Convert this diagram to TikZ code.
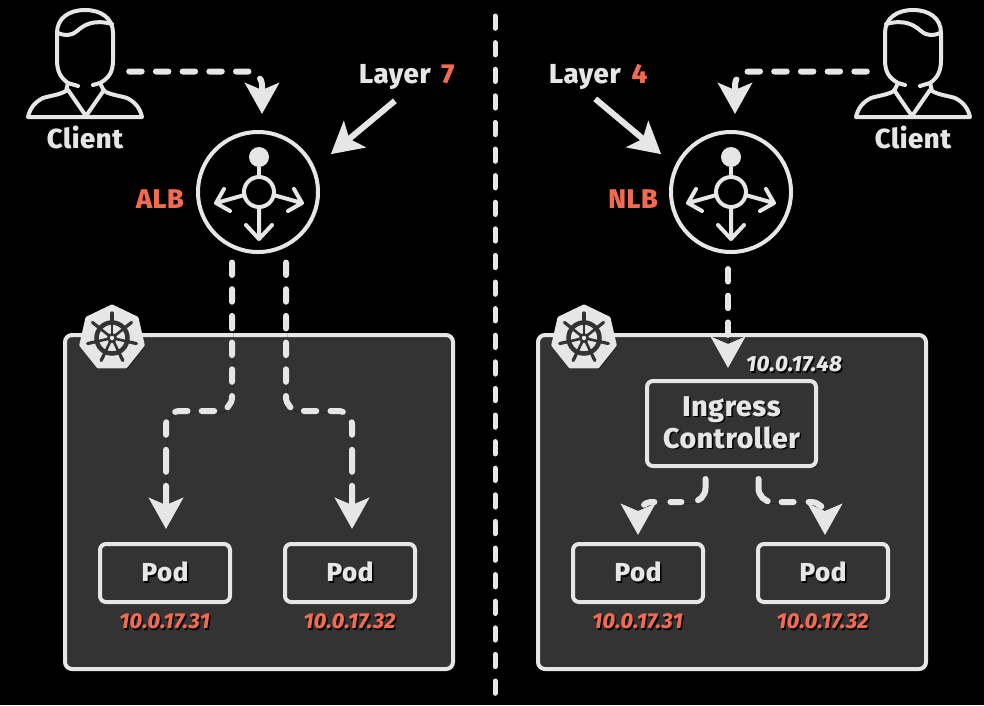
\documentclass[tikz,border=0pt]{standalone}
\usepackage{fontspec}
\setmainfont[LetterSpace=2,BoldFont={Fira Sans ExtraBold},BoldItalicFont={Fira Sans ExtraBold Italic}]{Fira Sans}
\usetikzlibrary{arrows.meta,shapes.geometric,shadows,calc}
\definecolor{ink}{HTML}{E6E6E6}
\definecolor{panelfill}{HTML}{333333}
\definecolor{hot}{HTML}{F26B50}
\newcommand\stx[1]{\rlap{\raisebox{-1.5pt}{\kern1.5pt\textcolor{black}{#1}}}#1}
\tikzset{
  softshadow/.style={drop shadow={shadow xshift=2pt,shadow yshift=-2pt,opacity=.55,fill=black}},
  panel/.style={draw=ink,line width=4pt,fill=panelfill,rounded corners=7pt,minimum width=388pt,minimum height=334pt,inner sep=0pt,softshadow},
  podbox/.style={draw=ink,line width=4pt,fill=panelfill,rounded corners=6pt,minimum width=130pt,minimum height=58pt,inner sep=0pt,softshadow,text=ink,font=\bfseries\fontsize{26}{26}\selectfont},
  ctrlbox/.style={podbox,minimum width=169pt,minimum height=85pt,align=center,font=\bfseries\fontsize{28.5}{32}\selectfont},
  lbcircle/.style={circle,draw=ink,line width=4pt,minimum size=120pt,inner sep=0pt},
  label/.style={text=ink,inner sep=0pt,font=\bfseries\fontsize{27.5}{27.5}\selectfont},
  hotlabel/.style={text=hot,inner sep=0pt,font=\bfseries\fontsize{27}{27}\selectfont},
  iplabel/.style={text=hot,inner sep=0pt,font=\bfseries\itshape\fontsize{21.5}{21.5}\selectfont},
  iplight/.style={iplabel,text=ink,font=\bfseries\itshape\fontsize{22}{22}\selectfont},
  badge/.style={regular polygon,regular polygon sides=7,draw=ink,fill=ink,line width=4pt,line join=round,minimum size=63pt,inner sep=0pt,softshadow},
  iconbox/.style={inner sep=0pt,minimum width=56pt,minimum height=107pt},
  bigtip/.tip={Stealth[length=31pt,width=34pt,inset=7pt]},
  solidarrow/.style={draw=ink,line width=6pt,-bigtip},
  flow/.style={draw=ink,line width=6pt,line cap=round,dash pattern=on 12.5pt off 14.2pt,rounded corners=14pt,-bigtip,
    preaction={draw=black,draw opacity=.5,transform canvas={shift={(1.5pt,-1.5pt)}}}},
  flowlong/.style={flow,dash pattern=on 12.5pt off 14.2pt on 12.5pt off 14.2pt on 12.5pt off 14.2pt on 12.5pt off 14.2pt on 12.5pt off 14.2pt on 12.5pt off 14.2pt on 12.5pt off 14.2pt on 12.5pt off 14.2pt on 12.5pt off 15pt on 22pt off 14pt on 60pt off 10pt},
  divider/.style={draw=ink,line width=5pt,line cap=round,dash pattern=on 12.3pt off 14.3pt},
  person/.pic={
    \draw[ink,line width=4pt,line cap=round,line join=round]
      (-7,86) -- (-17,83) .. controls (-24,78) and (-28,72) .. (-28,60) -- (-28,33)
      .. controls (-28,18) and (-16,10) .. (0,10) .. controls (16,10) and (28,18) .. (28,33)
      -- (28,60) .. controls (28,72) and (24,78) .. (15,83) -- (8,85);
    \draw[ink,line width=4pt,line cap=round,line join=round]
      (-27,33) .. controls (-20,36) and (-14,36) .. (-8,31) .. controls (-1,25) and (8,19) .. (27,24);
    \draw[ink,line width=4pt,line cap=round,line join=round]
      (-17,83) -- (-19,91) .. controls (-26,95) and (-36,96) .. (-42,98) .. controls (-50,102) and (-55,108) .. (-57,117)
      -- (57,117) .. controls (55,108) and (50,102) .. (42,98) .. controls (36,96) and (26,95) .. (19,91) -- (15,83);
    \draw[ink,line width=4pt,line join=round,line cap=round] (-17,90) -- (1,116) -- (19,90);
  },
  lbicon/.pic={
    \fill[ink] (0,-35) circle (10);
    \draw[ink,line width=4pt] (0,-25) -- (0,-15);
    \draw[ink,line width=4pt] (0,0) circle (15);
    \draw[ink,line width=4pt,line cap=round,line join=round]
      (-14.5,3) -- (-43,11) (-35,-3) -- (-43,11) -- (-29,19)
      (14.5,3) -- (43,11) (35,-3) -- (43,11) -- (29,19)
      (0,15) -- (0,47) (-13,33) -- (0,47) -- (13,33);
  },
  helm/.pic={
    \draw[panelfill,line width=4.5pt] (0,0) circle (15.5);
    \fill[panelfill] (0,0) circle (5);
    \foreach \a in {90,141.43,192.86,244.29,295.71,347.14,398.57}{
      \draw[panelfill,line width=2.6pt] (0,0) -- ({\a}:-17);
      \draw[panelfill,line width=3.2pt,line cap=round] ({\a}:-17) -- ({\a}:-25);
    }
    \fill[ink] (0,0) circle (2.2);
  }
}
\begin{document}
\begin{tikzpicture}[x=1pt,y=-1pt]
\useasboundingbox (0,0) rectangle (984,705);
\fill[black] (0,0) rectangle (984,705);
\coordinate (divtop) at (495,16);
\coordinate (divbot) at (495,695);
\draw[divider] (divtop) -- (divbot);

% left side
\node[panel] (panelL) at (259,502) {};
\node[badge] (badgeL) at (112,338) {};
\pic at (112,338) {helm};
\node[iconbox] (clientL) at (85,63.5) {};
\pic at (85,0) {person};
\node[label] (clientLtext) at (85,137) {Client};
\node[lbcircle] (alb) at (258,192) {};
\pic at (259,192) {lbicon};
\node[hotlabel] (albtext) at (160,199) {ALB};
\node[label,anchor=west] (layer7) at (359,77) {Layer\hspace{4pt} \textcolor{hot}{7}};
\node[podbox] (pod1) at (165,573) {\stx{Pod}};
\node[podbox] (pod2) at (350,573) {\stx{Pod}};
\node[iplabel] (ip1) at (164.5,622) {\stx{10.0.17.31}};
\node[iplabel] (ip2) at (349.5,622) {\stx{10.0.17.32}};

% right side
\node[panel] (panelR) at (732,502) {};
\node[badge] (badgeR) at (584,338) {};
\pic at (584,338) {helm};
\node[iconbox] (clientR) at (913,63.5) {};
\pic[xscale=-1] at (913,0) {person};
\node[label] (clientRtext) at (913,137) {Client};
\node[lbcircle] (nlb) at (731,192) {};
\pic at (731,192) {lbicon};
\node[hotlabel] (nlbtext) at (633,199) {NLB};
\node[label,anchor=west] (layer4) at (549,77) {Layer\hspace{4pt} \textcolor{hot}{4}};
\node[ctrlbox] (ingress) at (731.5,423.5) {\stx{Ingress}\\\stx{Controller}};
\node[iplight] (ip48) at (794,365) {\stx{10.0.17.48}};
\node[podbox] (pod3) at (638,573) {\stx{Pod}};
\node[podbox] (pod4) at (823,573) {\stx{Pod}};
\node[iplabel] (ip3) at (637.5,622) {\stx{10.0.17.31}};
\node[iplabel] (ip4) at (822.5,622) {\stx{10.0.17.32}};

% connectors
\draw[flow] ([xshift=16pt,yshift=-8pt]clientL.east) -| ([xshift=4pt,yshift=16pt]alb.north);
\draw[flow] ([xshift=-18pt,yshift=-8pt]clientR.west) -| ([xshift=4pt,yshift=16pt]nlb.north);
\draw[solidarrow] ([xshift=-12pt,yshift=-11pt]layer7.south) -- ([xshift=29pt,yshift=-6pt]alb.north east);
\draw[solidarrow] ([xshift=-3pt,yshift=-9pt]layer4.south) -- ([xshift=-26pt,yshift=-6pt]nlb.north west);

\coordinate (bendA) at (200,411);
\coordinate (bendB) at (320,411);
\draw[flowlong] ([xshift=-26pt,yshift=-8.5pt]alb.south) |- (bendA) -| ([xshift=1pt,yshift=13pt]pod1.north);
\draw[flowlong] ([xshift=28pt,yshift=-8.5pt]alb.south) |- (bendB) -| ([xshift=2pt,yshift=13pt]pod2.north);
\draw[flow] ([xshift=-3pt,yshift=-15pt]nlb.south) -- ([xshift=-3.5pt,yshift=11pt]ingress.north);

\coordinate (bendC) at (670,502);
\coordinate (bendD) at (790,502);
\draw[flow,dash pattern=on 24pt off 17pt on 11pt off 16pt on 11pt off 60pt] ([xshift=-26pt,yshift=-11pt]ingress.south) |- (bendC) -| ([yshift=7pt]pod3.north);
\draw[flow,dash pattern=on 26pt off 14pt on 12pt off 15pt on 14pt off 60pt] ([xshift=27pt,yshift=-11pt]ingress.south) |- (bendD) -| ([xshift=2pt,yshift=7pt]pod4.north);
\end{tikzpicture}
\end{document}
